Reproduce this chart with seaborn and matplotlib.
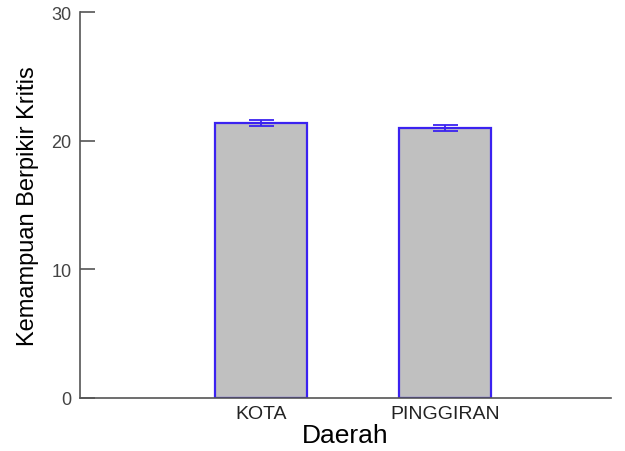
import numpy as np
import pandas as pd
import seaborn as sns
import matplotlib.pyplot as plt

daerah = ['KOTA', 'PINGGIRAN']
rata_rata = [21.37, 20.98]
std_error = [0.2, 0.2]

df = pd.DataFrame({'Daerah': daerah, 'Skor': rata_rata})

sns.set_style('white')
plt.rcParams['font.family'] = ['Liberation Sans', 'DejaVu Sans']

fig = plt.figure(figsize=(6.25, 4.52), dpi=100)
ax = fig.add_axes([0.128, 0.1173, 0.8496, 0.8539])

sns.barplot(data=df, x='Daerah', y='Skor', color='#c0c0c0', width=0.5,
            edgecolor='#3b22f0', linewidth=1.6, errorbar=None, saturation=1, ax=ax)
ax.errorbar(x=np.arange(len(daerah)), y=rata_rata, yerr=std_error, fmt='none',
            ecolor='#3b22f0', elinewidth=1.3, capsize=9, capthick=1.3)

ax.set_ylim(0, 30)
ax.set_yticks([0, 10, 20, 30])
ax.set_xlim(-0.986, 1.9)

sns.despine(ax=ax)
for s in ['left', 'bottom']:
    ax.spines[s].set_color('#555555')
    ax.spines[s].set_linewidth(1.2)

ax.tick_params(axis='y', left=True, direction='in', length=11, width=1.2, color='#555555',
               pad=6, labelsize=13, labelcolor='#444444')
ax.tick_params(axis='x', bottom=False, length=0, pad=5, labelsize=14, labelcolor='#222222')
ax.set_xlabel('Daerah', fontsize=19, labelpad=1, color='black')
ax.set_ylabel('Kemampuan Berpikir Kritis', fontsize=17, labelpad=9, color='black')

plt.savefig('out.png', dpi=100)
